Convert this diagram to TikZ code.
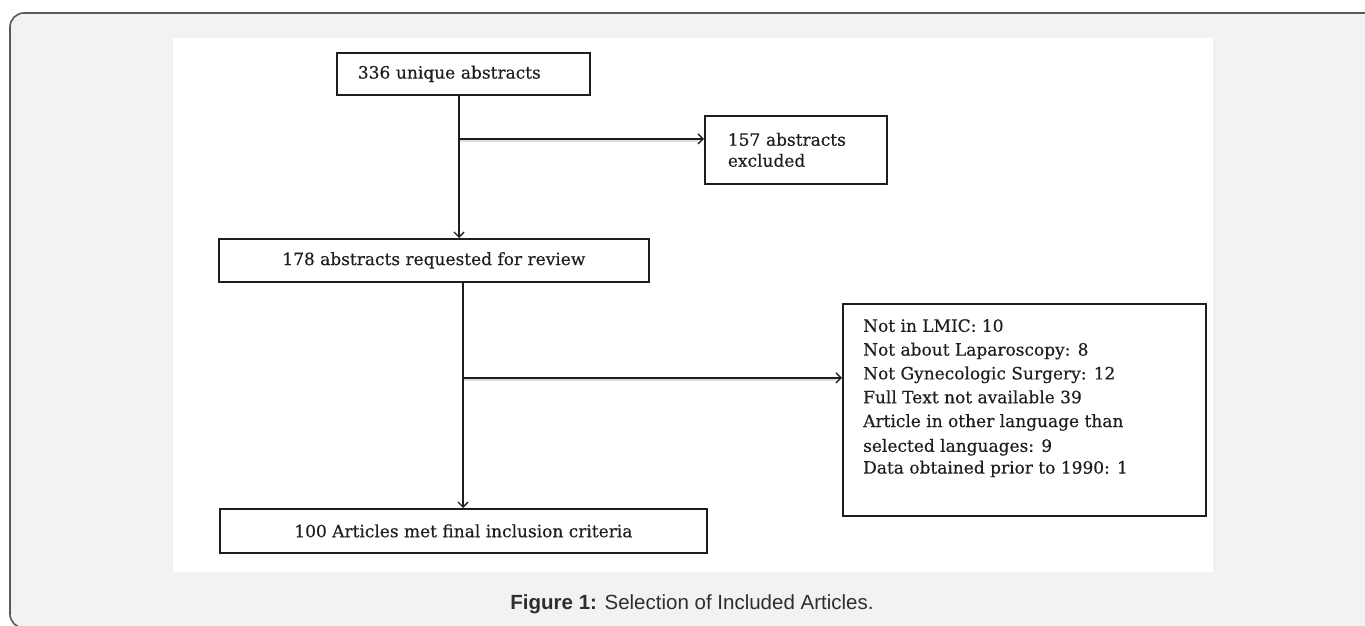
\documentclass[tikz,border=0pt]{standalone}
\usepackage{fontspec}
\setmainfont{DejaVu Serif}[FakeBold=0.35]
\newfontfamily\capfont{Liberation Sans}
\usetikzlibrary{arrows.meta,shadows,calc}
\definecolor{panel}{HTML}{F1F2F4}
\definecolor{ink}{HTML}{1E1E1E}
\begin{document}
\begin{tikzpicture}[x=1pt,y=-1pt,
  box/.style={draw=ink, line width=1.8pt, fill=white, rectangle, inner sep=0pt,
    drop shadow={shadow xshift=1.5pt, shadow yshift=-1.5pt, opacity=0.3, fill=black}},
  txt/.style={font=\fontsize{17}{24}\selectfont, text=ink, inner sep=0pt},
  arr/.style={draw=ink, line width=1.7pt, -{Straight Barb[length=5pt,width=10pt,line width=1.4pt]}},
  shade/.style={draw=black!13, line width=2.2pt}]
\useasboundingbox (0,0) rectangle (1365,626);
\begin{scope}
  \clip (0,0) rectangle (1365,626);
  \draw[fill=panel, draw=black!65, line width=1.6pt, rounded corners=14pt] (10,13) rectangle (1378,628);
\end{scope}
\fill[white] (173,38) rectangle (1213,572);

\node[box, txt, anchor=north west, minimum width=253, minimum height=42, text width=211, align=left] (b1) at (336,52) {336 unique abstracts};
\node[box, txt, anchor=north west, minimum width=182, minimum height=68, text width=136, align=left, font=\fontsize{17}{21}\selectfont] (b2) at (704,115) {157 abstracts\\excluded};
\node[box, txt, anchor=north west, minimum width=430, minimum height=43] (b3) at (218,238) {178 abstracts requested for review};
\node[box, anchor=north west, minimum width=363, minimum height=212] (b4) at (842,303) {};
\node[txt, anchor=north west, align=left, font=\fontsize{17}{23.8}\selectfont] (b4t) at (863,319) {Not in LMIC: 10\\Not about Laparoscopy: 8\\Not Gynecologic Surgery: 12\\Full Text not available 39\\Article in other language than\\[1pt]selected languages: 9\\[-2pt]Data obtained prior to 1990: 1};
\node[box, txt, anchor=north west, minimum width=487, minimum height=44] (b5) at (219,508) {100 Articles met final inclusion criteria};

\coordinate (s1) at ($(b1.south west)+(123,0)$);
\coordinate (j1) at ($(s1)+(0,43)$);
\draw[shade] ($(j1)+(0,2.5)$) -- ($(j1 -| b2.west)+(-6,2.5)$);
\draw[arr] (s1) -- (s1 |- b3.north);
\draw[arr] (j1) -- (j1 -| b2.west);

\coordinate (s2) at ($(b3.south west)+(245,0)$);
\coordinate (j2) at ($(s2)+(0,95)$);
\draw[shade] ($(j2)+(0,2.5)$) -- ($(j2 -| b4.west)+(-6,2.5)$);
\draw[arr] (s2) -- (s2 |- b5.north);
\draw[arr] (j2) -- (j2 -| b4.west);

\node[font=\capfont\fontsize{20.5}{24}\selectfont, text=black!82, inner sep=0pt] (cap) at (692,604) {\textbf{Figure 1:} Selection of Included Articles.};
\end{tikzpicture}
\end{document}
